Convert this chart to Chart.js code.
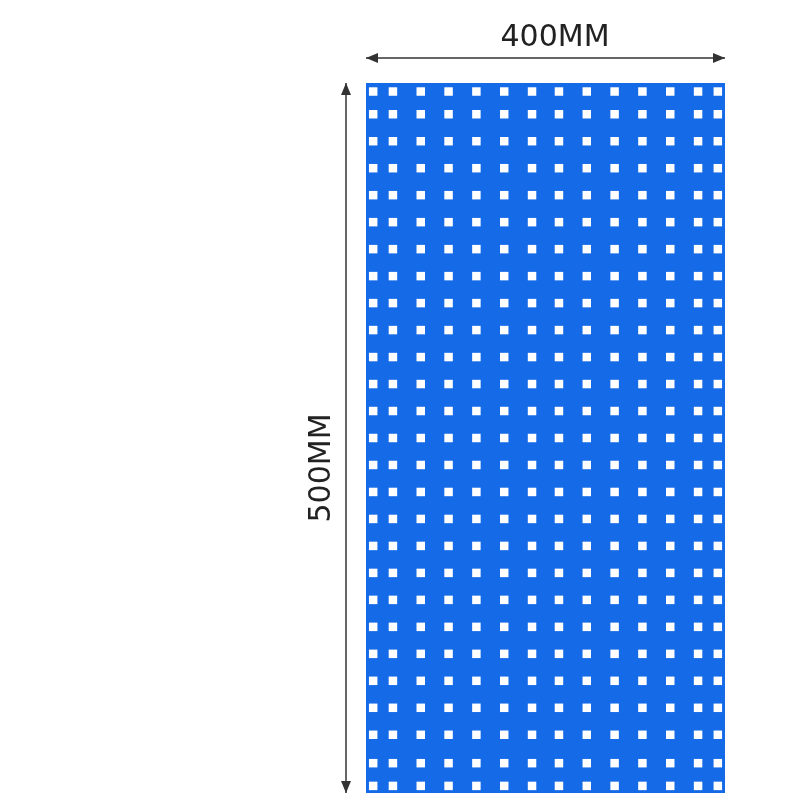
<!DOCTYPE html>
<html>
<head>
<meta charset="utf-8">
<script src="https://cdn.jsdelivr.net/npm/chart.js@4"></script>
<style>html,body{margin:0;background:#fff}#c{width:800px;height:800px}</style>
</head>
<body>
<div id="c"><canvas id="board"></canvas></div>
<script>
// hole positions in mm on a 400 x 500 panel
var holeCols = [8, 30, 61, 92, 123, 154, 185, 215, 246, 277, 308, 339, 370, 392];
var holeRows = [6, 22, 41, 60, 79, 98, 117, 136, 155, 174, 193, 212, 231, 250, 269, 288, 307, 326, 345, 364, 383, 402, 421, 440, 459, 479, 495];
var widthLabel = '400MM';
var heightLabel = '500MM';

var holes = [];
holeRows.forEach(function (y) {
  holeCols.forEach(function (x) { holes.push({ x: x, y: y }); });
});

// blue panel + dimension arrows
var panelPlugin = {
  id: 'panel',
  beforeDatasetsDraw: function (chart) {
    var a = chart.chartArea, ctx = chart.ctx;
    ctx.save();
    ctx.fillStyle = '#156ae8';
    ctx.fillRect(a.left, a.top, a.right - a.left, a.bottom - a.top);
    ctx.restore();
  },
  afterDraw: function (chart) {
    var a = chart.chartArea, ctx = chart.ctx;
    ctx.save();
    ctx.strokeStyle = '#333';
    ctx.fillStyle = '#333';
    ctx.lineWidth = 1.5;
    function arrow(x1, y1, x2, y2) {
      ctx.beginPath(); ctx.moveTo(x1, y1); ctx.lineTo(x2, y2); ctx.stroke();
      [[x1, y1, x2, y2], [x2, y2, x1, y1]].forEach(function (p) {
        var ang = Math.atan2(p[1] - p[3], p[0] - p[2]);
        ctx.beginPath();
        ctx.moveTo(p[0], p[1]);
        ctx.lineTo(p[0] - 12 * Math.cos(ang) + 5 * Math.sin(ang), p[1] - 12 * Math.sin(ang) - 5 * Math.cos(ang));
        ctx.lineTo(p[0] - 12 * Math.cos(ang) - 5 * Math.sin(ang), p[1] - 12 * Math.sin(ang) + 5 * Math.cos(ang));
        ctx.closePath(); ctx.fill();
      });
    }
    arrow(a.left, 58, a.right, 58);
    arrow(346, a.top, 346, a.bottom);
    ctx.font = '30px "DejaVu Sans"';
    ctx.textAlign = 'center';
    ctx.textBaseline = 'middle';
    ctx.fillStyle = '#222';
    ctx.fillText(widthLabel, 555, 38);
    ctx.translate(322, 468);
    ctx.rotate(-Math.PI / 2);
    ctx.fillText(heightLabel, 0, 0);
    ctx.restore();
  }
};

new Chart(document.getElementById('board'), {
  type: 'scatter',
  data: {
    datasets: [{
      data: holes,
      pointStyle: 'rect',
      pointRadius: 6,
      pointBorderWidth: 0,
      backgroundColor: '#ffffff',
      borderColor: '#ffffff'
    }]
  },
  options: {
    responsive: true,
    maintainAspectRatio: false,
    animation: false,
    layout: { padding: { left: 366, right: 75, top: 83, bottom: 7 } },
    plugins: { legend: { display: false }, tooltip: { enabled: false } },
    scales: {
      x: { display: false, min: 0, max: 400 },
      y: { display: false, min: 0, max: 500, reverse: true }
    }
  },
  plugins: [panelPlugin]
});
</script>
</body>
</html>
